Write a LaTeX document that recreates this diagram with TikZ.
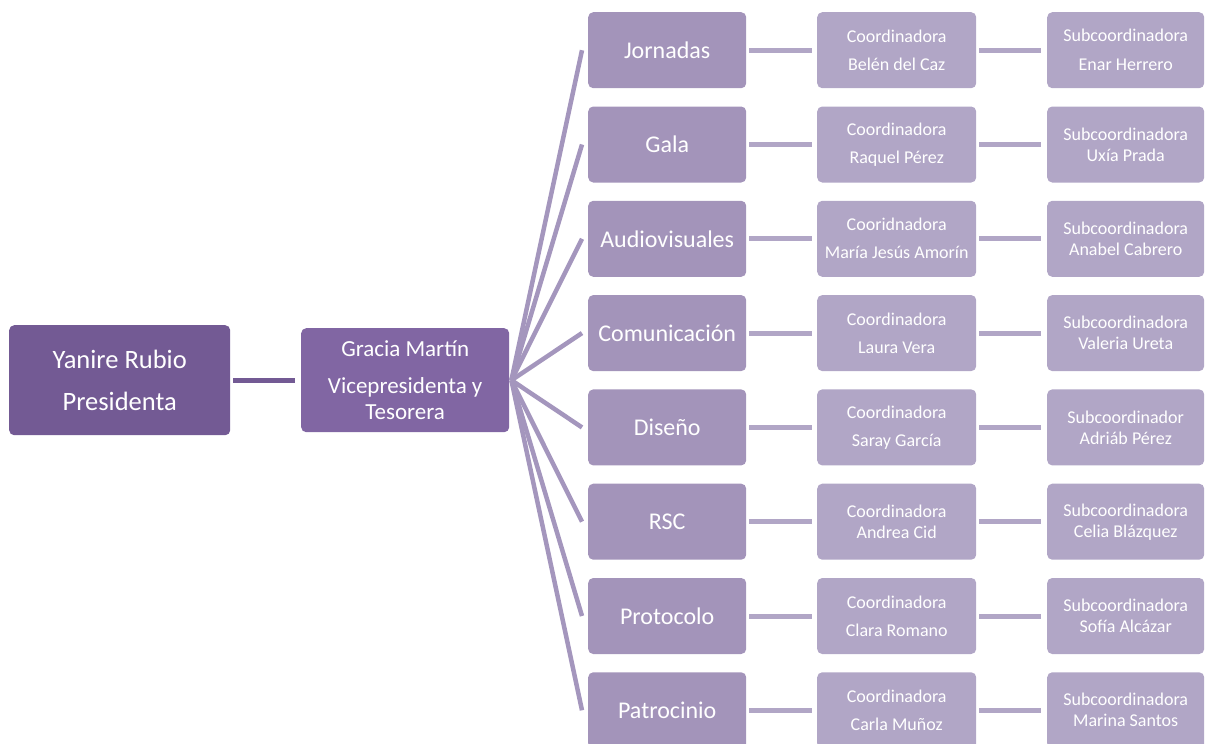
\documentclass[tikz,border=0pt]{standalone}
\usepackage{fontspec}
\setmainfont{Carlito}
\definecolor{cTop}{HTML}{735A94}
\definecolor{cVice}{HTML}{8166A3}
\definecolor{cL3}{HTML}{A394BA}
\definecolor{cL4}{HTML}{B1A6C6}
\definecolor{cFan}{HTML}{A496BD}
\begin{document}
\begin{tikzpicture}[x=1pt,y=-1pt,
  box/.style={rounded corners=5pt, text=white, inner sep=0pt, align=center, anchor=north west},
  topbox/.style={box, fill=cTop, minimum width=221pt, minimum height=110pt, font=\fontsize{26.5}{42}\selectfont},
  vicebox/.style={box, fill=cVice, minimum width=208pt, minimum height=104pt, font=\fontsize{23}{26}\selectfont},
  areabox/.style={box, fill=cL3, minimum width=158pt, minimum height=76pt, font=\fontsize{24}{28}\selectfont},
  coordbox/.style={box, fill=cL4, minimum width=159pt, minimum height=76pt, font=\fontsize{18}{28}\selectfont},
  coordtight/.style={coordbox, font=\fontsize{18}{21}\selectfont},
  subbox/.style={box, fill=cL4, minimum width=157pt, minimum height=76pt, font=\fontsize{18}{21}\selectfont},
  subwide/.style={subbox, font=\fontsize{18}{29}\selectfont},
  link/.style={line width=5pt, draw=cL4},
  fan/.style={line width=4.5pt, draw=cFan},
  toplink/.style={line width=5pt, draw=cTop}
]
\useasboundingbox (0,0) rectangle (1208,744);
\clip (0,0) rectangle (1208,744);

\node[topbox] (pres) at (9,325) {Yanire Rubio\\Presidenta};
\node[vicebox] (vice) at (301,328) {Gracia Martín\\[11pt]Vicepresidenta y\\Tesorera};
\draw[toplink] ([xshift=3pt]pres.east) -- ([xshift=-6pt]vice.west);

\foreach \i/\area/\ctext/\cstyle/\stext/\sstyle in {
  1/Jornadas/{Coordinadora\\Belén del Caz}/coordbox/{Subcoordinadora\\Enar Herrero}/subwide,
  2/Gala/{Coordinadora\\Raquel Pérez}/coordbox/{Subcoordinadora\\Uxía Prada}/subbox,
  3/Audiovisuales/{Cooridnadora\\María Jesús Amorín}/coordbox/{Subcoordinadora\\Anabel Cabrero}/subbox,
  4/Comunicación/{Coordinadora\\Laura Vera}/coordbox/{Subcoordinadora\\Valeria Ureta}/subbox,
  5/Diseño/{Coordinadora\\Saray García}/coordbox/{Subcoordinador\\Adriáb Pérez}/subbox,
  6/RSC/{Coordinadora\\Andrea Cid}/coordtight/{Subcoordinadora\\Celia Blázquez}/subbox,
  7/Protocolo/{Coordinadora\\Clara Romano}/coordbox/{Subcoordinadora\\Sofía Alcázar}/subbox,
  8/Patrocinio/{Coordinadora\\Carla Muñoz}/coordbox/{Subcoordinadora\\Marina Santos}/subbox}
{
  \pgfmathsetmacro{\ytop}{12+94.3*(\i-1)}
  \node[areabox] (a\i) at (588,\ytop) {\area};
  \node[\cstyle] (c\i) at (817,\ytop) {\ctext};
  \node[\sstyle] (s\i) at (1047,\ytop) {\stext};
  \draw[fan] ([xshift=2pt]vice.east) -- ([xshift=-6pt]a\i.west);
  \draw[link] ([xshift=3pt]a\i.east) -- ([xshift=-5pt]c\i.west);
  \draw[link] ([xshift=3pt]c\i.east) -- ([xshift=-6pt]s\i.west);
}
\end{tikzpicture}
\end{document}
